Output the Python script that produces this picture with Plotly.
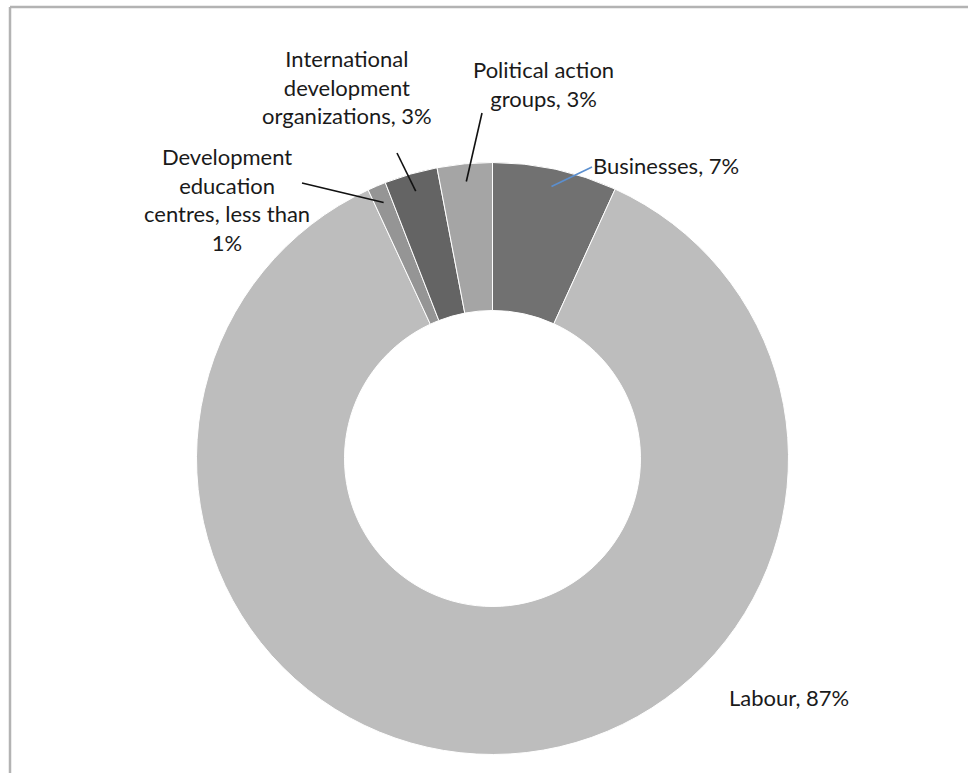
import math
import plotly.graph_objects as go

# ---- data ----
categories = ["Businesses", "Labour", "Development education centres",
              "International development organizations", "Political action groups"]
values = [6.8, 86.3, 1.0, 2.9, 3.0]
label_texts = ["Businesses, 7%", "Labour, 87%",
               "Development<br>education<br>centres, less than<br>1%",
               "International<br>development<br>organizations, 3%",
               "Political action<br>groups, 3%"]
colors = ["#717171", "#bdbdbd", "#959595", "#646464", "#a5a5a5"]

# ---- layout geometry (pixels) ----
W, H = 968, 773
CX, CY, R = 492.5, 458.5, 296

def px(x):
    return x / W

def py(y):
    return 1 - y / H

# label placement (pixel) : (x, y, xanchor)
label_pos = [(591, 166, "left"), (789, 697, "center"), (227, 199, "center"),
             (347, 87, "center"), (543, 84, "center")]
# leader line start (pixel) or None
leader_start = [(592, 167), None, (302, 183), (397, 153), (482, 113)]
leader_color = ["#5b8fcf", None, "#111111", "#111111", "#111111"]

fig = go.Figure(go.Pie(
    labels=categories, values=values, sort=False, direction="clockwise",
    rotation=0, hole=0.5, textinfo="none", hoverinfo="label+percent",
    marker=dict(colors=colors, line=dict(color="white", width=1)),
    domain=dict(x=[px(CX - R), px(CX + R)], y=[py(CY + R), py(CY - R)]),
    showlegend=False,
))

annotations = []
shapes = []
total = sum(values)
cum = 0
for i, v in enumerate(values):
    mid = (cum + v / 2) / total * 2 * math.pi
    cum += v
    tx = CX + 0.94 * R * math.sin(mid)
    ty = CY - 0.94 * R * math.cos(mid)
    lx, ly, anc = label_pos[i]
    annotations.append(dict(
        x=px(lx), y=py(ly), xref="paper", yref="paper", text=label_texts[i],
        showarrow=False, xanchor=anc, yanchor="middle", align="center",
        font=dict(family="Lato, Carlito, sans-serif", size=22, color="#1a1a1a")))
    if leader_start[i] is not None:
        sx, sy = leader_start[i]
        shapes.append(dict(type="line", xref="paper", yref="paper",
                           x0=px(sx), y0=py(sy), x1=px(tx), y1=py(ty),
                           line=dict(color=leader_color[i], width=1.6)))

# outer frame (top and left edges visible)
shapes.append(dict(type="line", xref="paper", yref="paper", x0=px(10), y0=py(7),
                   x1=1.01, y1=py(7), line=dict(color="#b3b3b3", width=2.5)))
shapes.append(dict(type="line", xref="paper", yref="paper", x0=px(10), y0=py(7),
                   x1=px(10), y1=-0.01, line=dict(color="#b3b3b3", width=2.5)))

fig.update_layout(
    width=W, height=H, margin=dict(l=0, r=0, t=0, b=0),
    paper_bgcolor="white", plot_bgcolor="white",
    annotations=annotations, shapes=shapes,
)
fig.write_html("out.html")
